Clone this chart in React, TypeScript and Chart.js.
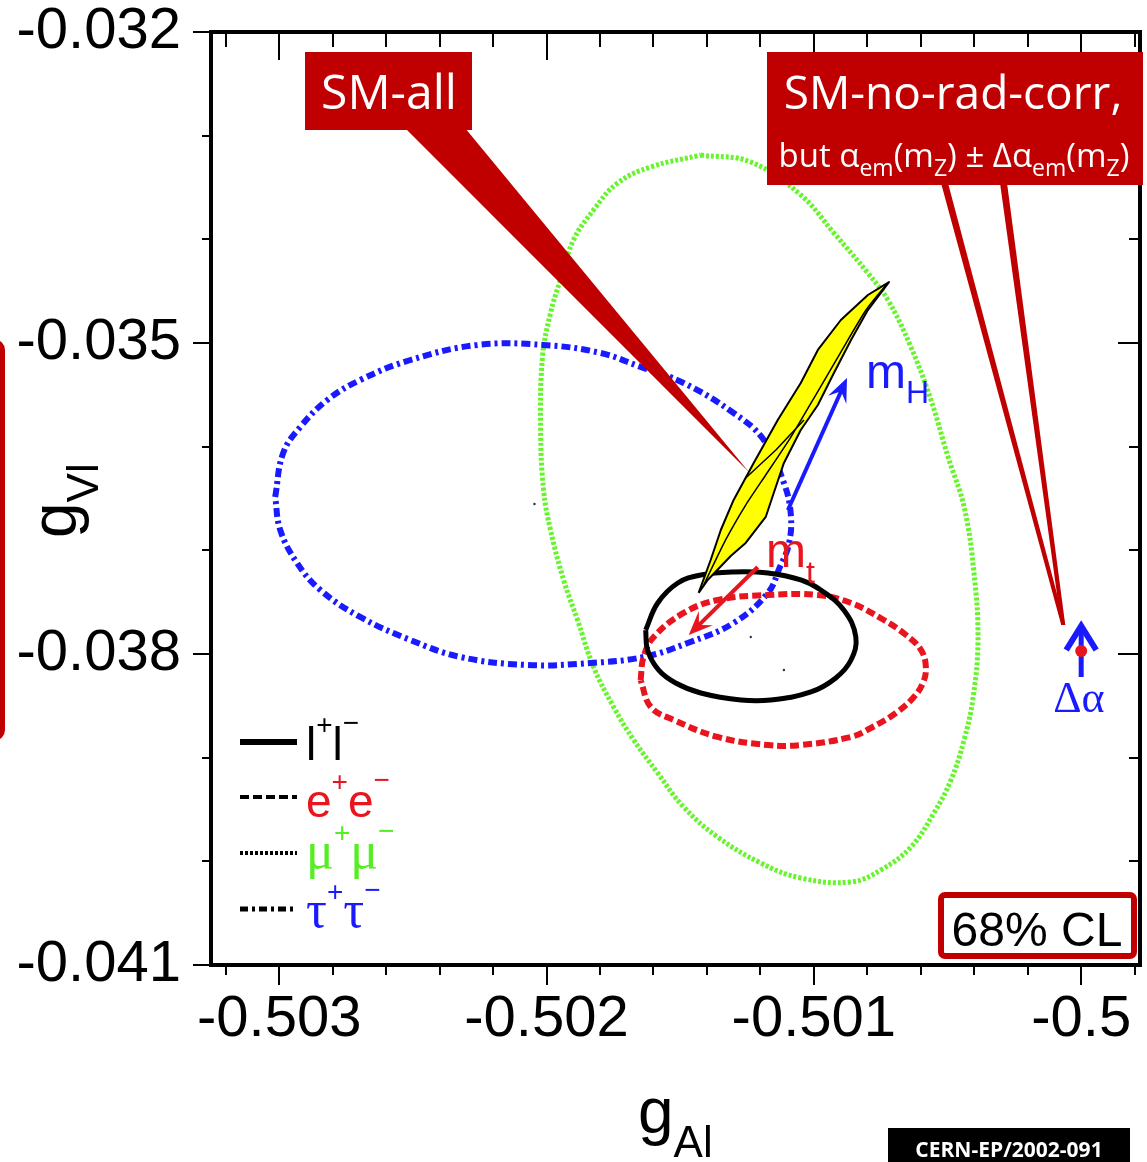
import React, { useEffect, useRef } from "react";
import { Chart, registerables } from "chart.js";
Chart.register(...registerables);

// ---- axes ----
const X_MIN = -0.503255;
const X_MAX = -0.49978;
const Y_MIN = -0.041;
const Y_MAX = -0.032;
const X_MAJOR = [-0.503, -0.502, -0.501, -0.5];
const Y_MAJOR = [-0.041, -0.038, -0.035, -0.032];

// ---- mu+mu- 68% contour (gAl, gVl) ----
const muGA = [-0.501423, -0.501236, -0.501049, -0.500925, -0.500798, -0.500723, -0.500637, -0.500562, -0.500498, -0.500438, -0.500401, -0.500386, -0.500404, -0.500438, -0.500487, -0.500551, -0.500637, -0.500749, -0.500861, -0.501049, -0.501199, -0.501360, -0.501487, -0.501584, -0.501674, -0.501749, -0.501824, -0.501884, -0.501936, -0.501985, -0.502011, -0.502022, -0.502015, -0.501985, -0.501948, -0.501899, -0.501824, -0.501734, -0.501610, -0.501423];
const muGV = [-0.033187, -0.033254, -0.033572, -0.033939, -0.034325, -0.034585, -0.035039, -0.035550, -0.036100, -0.036582, -0.037219, -0.037865, -0.038415, -0.038829, -0.039215, -0.039534, -0.039862, -0.040083, -0.040199, -0.040161, -0.040016, -0.039765, -0.039476, -0.039148, -0.038829, -0.038511, -0.038125, -0.037672, -0.037286, -0.036804, -0.036418, -0.035839, -0.035135, -0.034711, -0.034392, -0.034006, -0.033717, -0.033457, -0.033302, -0.033187];

// ---- tau+tau- contour ----
const tauGA = [-0.503015, -0.502985, -0.502921, -0.502820, -0.502697, -0.502509, -0.502258, -0.502011, -0.501798, -0.501648, -0.501487, -0.501300, -0.501187, -0.501112, -0.501086, -0.501094, -0.501127, -0.501172, -0.501300, -0.501472, -0.501637, -0.501835, -0.502071, -0.502322, -0.502509, -0.502697, -0.502846, -0.502933, -0.502996, -0.503015];
const tauGV = [-0.036485, -0.036061, -0.035810, -0.035550, -0.035357, -0.035164, -0.035019, -0.035019, -0.035096, -0.035231, -0.035386, -0.035675, -0.035936, -0.036350, -0.036659, -0.036948, -0.037161, -0.037411, -0.037701, -0.037894, -0.038029, -0.038087, -0.038106, -0.038029, -0.037865, -0.037643, -0.037383, -0.037122, -0.036804, -0.036485];

// ---- e+e- contour ----
const eGA = [-0.501648, -0.501637, -0.501599, -0.501487, -0.501360, -0.501172, -0.500985, -0.500861, -0.500738, -0.500655, -0.500599, -0.500581, -0.500592, -0.500629, -0.500693, -0.500787, -0.500861, -0.501049, -0.501172, -0.501360, -0.501524, -0.501610, -0.501648];
const eGV = [-0.038251, -0.038029, -0.037836, -0.037604, -0.037479, -0.037431, -0.037431, -0.037508, -0.037672, -0.037817, -0.037961, -0.038125, -0.038280, -0.038424, -0.038569, -0.038714, -0.038800, -0.038878, -0.038878, -0.038800, -0.038636, -0.038511, -0.038251];

// ---- l+l- contour ----
const lGA = [-0.501629, -0.501584, -0.501509, -0.501423, -0.501300, -0.501172, -0.501049, -0.500974, -0.500888, -0.500843, -0.500861, -0.500918, -0.501011, -0.501161, -0.501273, -0.501423, -0.501517, -0.501581, -0.501622, -0.501629];
const lGV = [-0.037768, -0.037508, -0.037315, -0.037238, -0.037209, -0.037219, -0.037286, -0.037383, -0.037575, -0.037836, -0.038058, -0.038231, -0.038366, -0.038444, -0.038444, -0.038376, -0.038280, -0.038154, -0.037961, -0.037768];

// ---- SM prediction band (yellow) ----
const smGA = [-0.501431, -0.501386, -0.501348, -0.501300, -0.501225, -0.501135, -0.501049, -0.500985, -0.500899, -0.500798, -0.500719, -0.500798, -0.500861, -0.500925, -0.500985, -0.501049, -0.501112, -0.501150, -0.501180, -0.501255, -0.501311, -0.501397, -0.501431];
const smGV = [-0.037411, -0.037093, -0.036804, -0.036514, -0.036157, -0.035743, -0.035386, -0.035067, -0.034778, -0.034537, -0.034412, -0.034682, -0.034971, -0.035289, -0.035598, -0.035839, -0.036157, -0.036447, -0.036678, -0.036929, -0.037055, -0.037286, -0.037411];
const smInnerAGA = [-0.501412, -0.501330, -0.501255, -0.501180, -0.501086, -0.500993, -0.500899, -0.500805, -0.500730];
const smInnerAGV = [-0.037334, -0.036900, -0.036563, -0.036273, -0.035907, -0.035502, -0.035087, -0.034682, -0.034440];
const smInnerBGA = [-0.501255, -0.501142, -0.501037];
const smInnerBGV = [-0.036302, -0.036032, -0.035743];

// ---- contour centres ----
const centreGA = [-0.501236, -0.501112, -0.502045];
const centreGV = [-0.037836, -0.038154, -0.036553];

// ---- SM without radiative corrections ----
const noRadGA = [-0.5];
const noRadGV = [-0.037971];
const dAlphaArrowGV = [-0.038222, -0.037701];

// ---- parameter arrows ----
const mHArrowGA = [-0.501097, -0.500876];
const mHArrowGV = [-0.036611, -0.035338];
const mtArrowGA = [-0.501210, -0.501468];
const mtArrowGV = [-0.037161, -0.037817];

// ---- callout targets ----
const smAllTip = [-0.501243, -0.036244];
const noRadTip = [-0.500067, -0.037720];

const legendGlyphs = ["l", "e", "μ", "τ"];
const legendColors = ["#000000", "#e8141e", "#55ee22", "#1a1aff"];

const SANS = "'Liberation Sans', Arial, sans-serif";
const SERIF = "'Liberation Serif', 'Times New Roman', serif";
const CAL = "'Open Sans', 'Noto Sans', sans-serif";
const BLUE = "#1a1aff";
const RED = "#e8141e";
const GREEN = "#66f52a";
const DARKRED = "#c00000";

const pts = (a: number[], b: number[]) => a.map((v, i) => ({ x: v, y: b[i] }));

type Run = { t: string; f: string; c?: string; dy?: number };
function rich(ctx: CanvasRenderingContext2D, runs: Run[], x: number, y: number, align: string = "left", color = "#000") {
  let total = 0;
  const ws: number[] = [];
  for (const r of runs) {
    ctx.font = r.f;
    const w = ctx.measureText(r.t).width;
    ws.push(w);
    total += w;
  }
  let cx = align === "center" ? x - total / 2 : align === "right" ? x - total : x;
  ctx.textBaseline = "alphabetic";
  ctx.textAlign = "left";
  runs.forEach((r, i) => {
    ctx.font = r.f;
    ctx.fillStyle = r.c || color;
    ctx.fillText(r.t, cx, y + (r.dy || 0));
    cx += ws[i];
  });
}

function arrow(ctx: CanvasRenderingContext2D, x0: number, y0: number, x1: number, y1: number, color: string, w: number, hl: number, hw: number) {
  const a = Math.atan2(y1 - y0, x1 - x0);
  const ux = Math.cos(a), uy = Math.sin(a);
  const nx = -uy, ny = ux;
  ctx.strokeStyle = color;
  ctx.fillStyle = color;
  ctx.lineWidth = w;
  ctx.setLineDash([]);
  ctx.beginPath();
  ctx.moveTo(x0, y0);
  ctx.lineTo(x1 - ux * hl * 0.5, y1 - uy * hl * 0.5);
  ctx.stroke();
  const bx = x1 - ux * hl, by = y1 - uy * hl;
  const mx = x1 - ux * hl * 0.6, my = y1 - uy * hl * 0.6;
  ctx.beginPath();
  ctx.moveTo(x1, y1);
  ctx.lineTo(bx + nx * hw, by + ny * hw);
  ctx.lineTo(mx, my);
  ctx.lineTo(bx - nx * hw, by - ny * hw);
  ctx.closePath();
  ctx.fill();
}

const annotations = {
  id: "annotations",
  beforeDatasetsDraw(chart: any) {
    const { ctx, scales } = chart;
    const x = scales.x, y = scales.y;
    const ax = x.getPixelForValue(noRadGA[0]);
    const yb = y.getPixelForValue(dAlphaArrowGV[0]);
    const yt = y.getPixelForValue(dAlphaArrowGV[1]);
    ctx.save();
    ctx.strokeStyle = BLUE;
    ctx.lineWidth = 5;
    ctx.beginPath();
    ctx.moveTo(ax, yb);
    ctx.lineTo(ax, yt + 3);
    ctx.stroke();
    ctx.lineJoin = "miter";
    ctx.lineWidth = 6;
    ctx.beginPath();
    ctx.moveTo(ax - 15, yt + 27);
    ctx.lineTo(ax, yt + 3);
    ctx.lineTo(ax + 15, yt + 27);
    ctx.stroke();
    ctx.restore();
  },
  afterDatasetsDraw(chart: any) {
    const { ctx, scales } = chart;
    const x = scales.x, y = scales.y;
    ctx.save();
    arrow(ctx, x.getPixelForValue(mHArrowGA[0]), y.getPixelForValue(mHArrowGV[0]), x.getPixelForValue(mHArrowGA[1]), y.getPixelForValue(mHArrowGV[1]), BLUE, 4, 24, 10);
    arrow(ctx, x.getPixelForValue(mtArrowGA[0]), y.getPixelForValue(mtArrowGV[0]), x.getPixelForValue(mtArrowGA[1]), y.getPixelForValue(mtArrowGV[1]), RED, 4, 24, 10);
    rich(ctx, [{ t: "m", f: `48px ${SANS}` }, { t: "H", f: `32px ${SANS}`, dy: 15 }], 866, 388, "left", BLUE);
    rich(ctx, [{ t: "m", f: `48px ${SANS}` }, { t: "t", f: `32px ${SANS}`, dy: 16 }], 766, 567, "left", RED);
    rich(ctx, [{ t: "Δα", f: `44px ${SERIF}` }], 1079, 712, "center", BLUE);
    ctx.restore();
  },
  afterDraw(chart: any) {
    const { ctx, chartArea, scales } = chart;
    const x = scales.x, y = scales.y;
    const { left, right, top, bottom } = chartArea;
    ctx.save();
    ctx.setLineDash([]);
    // ticks
    ctx.strokeStyle = "#000";
    ctx.lineWidth = 2;
    ctx.beginPath();
    for (let k = 0; k <= 9; k++) {
      const v = Y_MIN + k * 0.001;
      const p = Math.round(y.getPixelForValue(v));
      const major = k % 3 === 0;
      ctx.moveTo(left - (major ? 18 : 9), p);
      ctx.lineTo(left, p);
      ctx.moveTo(right, p);
      ctx.lineTo(right - (major ? 22 : 11), p);
    }
    for (let k = -16; k <= 1; k++) {
      const v = -0.5 + k * 0.0002;
      const p = Math.round(x.getPixelForValue(v));
      const major = k % 5 === 0;
      ctx.moveTo(p, top);
      ctx.lineTo(p, top + (major ? 28 : 15));
      ctx.moveTo(p, bottom);
      ctx.lineTo(p, bottom + (major ? 20 : 10));
    }
    ctx.stroke();
    // frame
    ctx.lineWidth = 4;
    ctx.strokeRect(left, top, right - left, bottom - top);

    // axis titles
    rich(ctx, [{ t: "g", f: `64px ${SANS}` }, { t: "Al", f: `44px ${SANS}`, dy: 24 }], 638, 1133, "left", "#000");
    ctx.save();
    ctx.translate(76, 538);
    ctx.rotate(-Math.PI / 2);
    rich(ctx, [{ t: "g", f: `64px ${SANS}` }, { t: "Vl", f: `44px ${SANS}`, dy: 22 }], 0, 0, "left", "#000");
    ctx.restore();

    // legend
    const rowsY = [742, 797, 853, 909];
    const rowsB = [760, 817, 868, 927];
    const dashes = [[], [9, 4], [3, 2], [8, 4, 3, 4]];
    const widths = [6, 4, 4, 5];
    for (let i = 0; i < 4; i++) {
      ctx.strokeStyle = "#000";
      ctx.lineWidth = widths[i];
      ctx.setLineDash(dashes[i]);
      ctx.beginPath();
      ctx.moveTo(240, rowsY[i]);
      ctx.lineTo(297, rowsY[i]);
      ctx.stroke();
      ctx.setLineDash([]);
      const serif = i >= 2;
      const fam = serif ? SERIF : SANS;
      const g = legendGlyphs[i];
      const gs = serif ? 52 : 46;
      rich(ctx, [
        { t: g, f: `${gs}px ${fam}` },
        { t: "+", f: `28px ${SANS}`, dy: -26 },
        { t: g, f: `${gs}px ${fam}` },
        { t: "\u2212", f: `28px ${SANS}`, dy: -28 },
      ], 306, rowsB[i], "left", legendColors[i]);
    }

    // SM-all callout
    const tX = x.getPixelForValue(smAllTip[0]);
    const tY = y.getPixelForValue(smAllTip[1]);
    ctx.fillStyle = DARKRED;
    ctx.beginPath();
    ctx.moveTo(405, 128);
    ctx.lineTo(465, 128);
    ctx.lineTo(tX, tY);
    ctx.closePath();
    ctx.fill();
    ctx.fillRect(305, 52, 167, 78);
    rich(ctx, [{ t: "SM-all", f: `48px ${CAL}` }], 389, 109, "center", "#fff");

    // SM-no-rad-corr callout
    const nX = x.getPixelForValue(noRadTip[0]);
    const nY = y.getPixelForValue(noRadTip[1]);
    ctx.fillStyle = DARKRED;
    for (const sx of [941, 1000]) {
      ctx.beginPath();
      ctx.moveTo(sx, 183);
      ctx.lineTo(sx + 7, 183);
      ctx.lineTo(nX + 2, nY);
      ctx.lineTo(nX - 2, nY);
      ctx.closePath();
      ctx.fill();
    }
    ctx.fillRect(767, 52, 376, 133);
    rich(ctx, [{ t: "SM-no-rad-corr,", f: `46px ${CAL}` }], 953, 109, "center", "#fff");
    const big = `33px ${CAL}`, small = `23px ${CAL}`;
    rich(ctx, [
      { t: "but α", f: big },
      { t: "em", f: small, dy: 9 },
      { t: "(m", f: big },
      { t: "Z", f: small, dy: 9 },
      { t: ") ± Δα", f: big },
      { t: "em", f: small, dy: 9 },
      { t: "(m", f: big },
      { t: "Z", f: small, dy: 9 },
      { t: ")", f: big },
    ], 954, 167, "center", "#fff");

    // 68% CL box
    ctx.fillStyle = "#fff";
    ctx.strokeStyle = DARKRED;
    ctx.lineWidth = 6;
    ctx.beginPath();
    (ctx as any).roundRect(941, 895, 193, 61, 4);
    ctx.fill();
    ctx.stroke();
    rich(ctx, [{ t: "68% CL", f: `48px ${SANS}` }], 1037, 946, "center", "#000");

    // reference tag
    ctx.fillStyle = "#000";
    ctx.fillRect(888, 1128, 242, 34);
    rich(ctx, [{ t: "CERN-EP/2002-091", f: `bold 21px ${CAL}` }], 1009, 1157, "center", "#fff");

    // cropped red frame at the left edge
    ctx.strokeStyle = DARKRED;
    ctx.lineWidth = 5;
    ctx.beginPath();
    (ctx as any).roundRect(-100, 342, 102.5, 396, 8);
    ctx.stroke();
    ctx.restore();
  },
};

export default function App() {
  const ref = useRef<HTMLCanvasElement>(null);
  useEffect(() => {
    if (!ref.current) return;
    const line = (data: any, color: string, dash: number[], w: number, order: number) => ({
      data, showLine: true, borderColor: color, borderWidth: w, borderDash: dash,
      pointRadius: 0, tension: 0.4, fill: false, order, borderJoinStyle: "round",
    });
    const chart = new Chart(ref.current, {
      type: "scatter",
      data: {
        datasets: [
          { ...line(pts(noRadGA, noRadGV), RED, [], 0, 1), showLine: false, pointRadius: 6, pointBackgroundColor: RED, pointBorderWidth: 0 },
          { ...line(pts(centreGA, centreGV), "#000", [], 0, 2), showLine: false, pointRadius: 1.2, pointBackgroundColor: "#333", pointBorderWidth: 0 },
          { ...line(pts(smInnerBGA, smInnerBGV), "#000", [], 1.5, 3), tension: 0 },
          { ...line(pts(smInnerAGA, smInnerAGV), "#000", [], 1.5, 4), tension: 0.2 },
          { ...line(pts(smGA, smGV), "#000", [], 2, 5), tension: 0, fill: "shape", backgroundColor: "#ffff00" },
          line(pts(lGA, lGV), "#000", [], 5, 7),
          line(pts(eGA, eGV), RED, [9, 4], 6, 8),
          line(pts(tauGA, tauGV), BLUE, [9, 4, 3, 4], 6, 9),
          line(pts(muGA, muGV), GREEN, [3, 2], 5, 10),
        ] as any,
      },
      options: {
        responsive: false,
        animation: false,
        devicePixelRatio: 1,
        events: [],
        layout: { padding: { top: 32, right: 7, left: 0, bottom: 0 } },
        plugins: { legend: { display: false }, tooltip: { enabled: false } },
        scales: {
          x: {
            type: "linear", min: X_MIN, max: X_MAX,
            grid: { display: false, drawTicks: false }, border: { display: false },
            ticks: {
              stepSize: 0.001, includeBounds: false, autoSkip: false, maxRotation: 0, padding: 20,
              color: "#000", font: { family: SANS, size: 58 },
              callback: (v: any) => (X_MAJOR.some((m) => Math.abs(m - v) < 1e-7) ? String(parseFloat(Number(v).toFixed(4))) : ""),
            },
            afterFit: (s: any) => { s.height = 197; s.paddingLeft = 0; s.paddingRight = 0; },
          },
          y: {
            type: "linear", min: Y_MIN, max: Y_MAX,
            grid: { display: false, drawTicks: false }, border: { display: false },
            ticks: {
              stepSize: 0.001, includeBounds: false, autoSkip: false, padding: 30,
              color: "#000", font: { family: SANS, size: 58 },
              callback: (v: any) => (Y_MAJOR.some((m) => Math.abs(m - v) < 1e-7) ? Number(v).toFixed(3) : ""),
            },
            afterFit: (s: any) => { s.width = 211; s.paddingTop = 0; s.paddingBottom = 0; },
          },
        },
      } as any,
      plugins: [annotations],
    });
    return () => chart.destroy();
  }, []);
  return (
    <div style={{ position: "absolute", left: 0, top: 0, width: 1147, height: 1162, background: "#fff" }}>
      <canvas ref={ref} width={1147} height={1162} style={{ display: "block" }} />
    </div>
  );
}
